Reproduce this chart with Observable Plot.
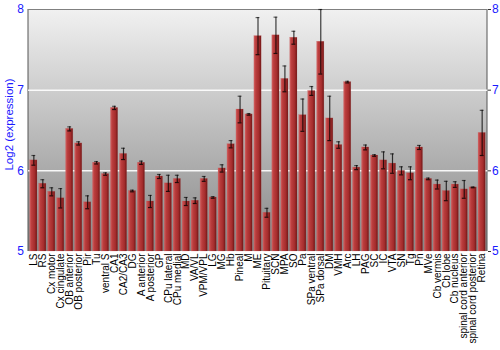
<!DOCTYPE html>
<html>
<head>
<meta charset="utf-8">
<script src="https://cdn.jsdelivr.net/npm/d3@7"></script>
<script src="https://cdn.jsdelivr.net/npm/@observablehq/plot@0.6"></script>
<style>
body { margin: 0; background: #fff; }
</style>
</head>
<body>
<div id="chart"></div>
<script>
const regions = ["LS","RS","Cx motor","Cx cingulate","OB anterior","OB posterior","Pir","Tu","ventral S","CA1","CA2/CA3","DG","A anterior","A posterior","GP","CPu lateral","CPu medial","MD","VA/VL","VPM/VPL","LG","MG","Hb","Pineal","M","ME","Pituitary","SCN","MPA","SO","Pa","SPa ventral","SPa dorsal","DM","VMH","Arc","LH","PAG","SC","IC","VTA","SN","Tg","Pn","MVe","Cb vermis","Cb lobe","Cb nucleus","spinal cord anterior","spinal cord posterior","Retina"];
const values = [6.13,5.84,5.74,5.66,6.52,6.34,5.61,6.10,5.96,6.78,6.21,5.75,6.10,5.62,5.93,5.845,5.90,5.62,5.63,5.90,5.67,6.03,6.33,6.76,6.70,7.67,5.48,7.68,7.14,7.65,6.69,6.99,7.60,6.65,6.32,7.10,6.04,6.29,6.19,6.13,6.09,6.00,5.97,6.29,5.90,5.83,5.75,5.83,5.77,5.795,6.47];
const errors = [0.06,0.05,0.05,0.12,0.025,0.02,0.08,0.015,0.015,0.02,0.07,0.01,0.02,0.075,0.025,0.10,0.045,0.05,0.035,0.03,0.01,0.045,0.045,0.165,0.01,0.23,0.055,0.225,0.16,0.08,0.2,0.055,0.4,0.275,0.04,0.01,0.025,0.03,0.01,0.105,0.12,0.05,0.08,0.025,0.01,0.055,0.12,0.035,0.11,0.005,0.28];
const yTicks = [5, 6, 7, 8];
const yLabel = "Log2 (expression)";

const data = regions.map((r, i) => ({region: r, value: values[i], err: errors[i]}));

const background = (index, scales, values, dims) => {
  const g = d3.create("svg:g");
  const defs = g.append("defs");
  const bg = defs.append("linearGradient").attr("id", "bggrad").attr("x1", 0).attr("y1", 0).attr("x2", 0).attr("y2", 1);
  bg.append("stop").attr("offset", "0%").attr("stop-color", "#f1f1f1");
  bg.append("stop").attr("offset", "100%").attr("stop-color", "#878787");
  const bar = defs.append("linearGradient").attr("id", "bargrad").attr("x1", 0).attr("y1", 0).attr("x2", 1).attr("y2", 0);
  bar.append("stop").attr("offset", "0%").attr("stop-color", "#d46262");
  bar.append("stop").attr("offset", "25%").attr("stop-color", "#bb3e3e");
  bar.append("stop").attr("offset", "70%").attr("stop-color", "#a42c2c");
  bar.append("stop").attr("offset", "100%").attr("stop-color", "#6e1616");
  const x0 = dims.marginLeft, x1 = dims.width - dims.marginRight;
  const y0 = dims.marginTop, y1 = dims.height - dims.marginBottom;
  g.append("rect").attr("x", x0).attr("y", y0).attr("width", x1 - x0).attr("height", y1 - y0).attr("fill", "url(#bggrad)");
  g.append("line").attr("x1", x0).attr("x2", x0).attr("y1", y0).attr("y2", y1).attr("stroke", "#555");
  g.append("line").attr("x1", x1).attr("x2", x1).attr("y1", y0).attr("y2", y1).attr("stroke", "#555");
  return g.node();
};

const chart = Plot.plot({
  width: 500,
  height: 350,
  marginLeft: 28,
  marginRight: 13,
  marginTop: 9,
  marginBottom: 99,
  style: {fontFamily: "Liberation Sans, Arial, sans-serif", background: "#fff"},
  x: {domain: regions, padding: 0.19, label: null},
  y: {domain: [5, 8], label: null},
  marks: [
    background,
    Plot.ruleY([6, 7], {stroke: "#ffffff", strokeWidth: 1.5, strokeOpacity: 0.9}),
    Plot.ruleY([8], {stroke: "#808080", strokeWidth: 1}),
    Plot.barY(data, {x: "region", y1: 5, y2: "value", fill: "url(#bargrad)", stroke: "#c05050", strokeOpacity: 0.35, strokeWidth: 0.5}),
    Plot.ruleX(data, {x: "region", y1: d => d.value - d.err, y2: d => d.value + d.err, stroke: "#000", strokeOpacity: 0.75, strokeWidth: 1.2}),
    Plot.tickY(data, {x: "region", y: d => d.value + d.err, stroke: "#000", strokeOpacity: 0.6, strokeWidth: 1.2, insetLeft: 1.7, insetRight: 1.7}),
    Plot.tickY(data, {x: "region", y: d => d.value - d.err, stroke: "#000", strokeOpacity: 0.8, strokeWidth: 1.2, insetLeft: 1.7, insetRight: 1.7}),
    Plot.axisY(yTicks, {anchor: "left", tickSize: 0, tickPadding: 4.5, tickFormat: d3.format("d"), fill: "#1a1aff", fontSize: 12, label: null}),
    Plot.axisY(yTicks, {anchor: "right", tickSize: 3, tickPadding: 1.5, tickFormat: d3.format("d"), fill: "#1a1aff", stroke: "#333", fontSize: 12, label: null}),
    Plot.axisX({tickSize: 0, tickRotate: -90, tickPadding: 2, fontSize: 10, fill: "#000", label: null}),
    Plot.text([yLabel], {frameAnchor: "middle", rotate: -90, dx: -249, dy: -6, fill: "#1a1aff", fontSize: 11.5})
  ]
});
document.getElementById("chart").appendChild(chart);
</script>
</body>
</html>
